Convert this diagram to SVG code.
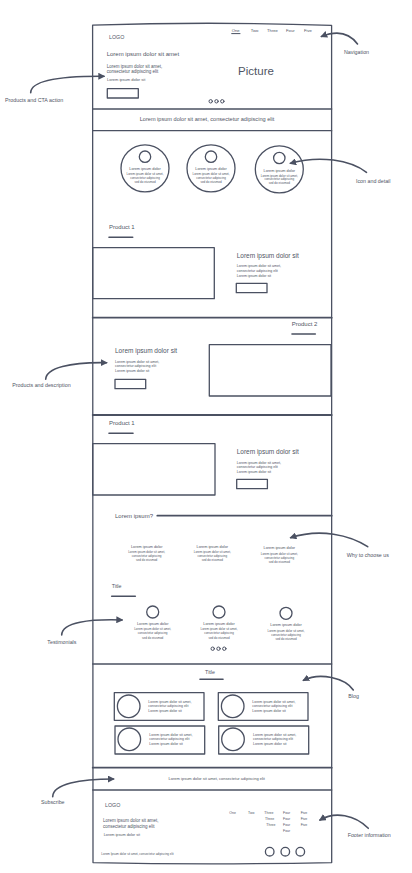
<svg xmlns="http://www.w3.org/2000/svg" width="412" height="873" viewBox="0 0 412 873">
<style>
.ln{fill:none;stroke:#4b5162;stroke-width:1.3;stroke-linecap:round;stroke-linejoin:round}
.th{fill:none;stroke:#4b5162;stroke-width:1.8;stroke-linecap:round}
.ul{fill:none;stroke:#4b5162;stroke-width:1.6;stroke-linecap:round}
.ar{fill:none;stroke:#4b5162;stroke-width:1.6;stroke-linecap:round}
text{font-family:"Liberation Sans",Arial,sans-serif;fill:#4f5565}
.lab{font-size:5.3px}
.h1{font-size:6px}
.h2{font-size:6.5px}
.s46{font-size:4.5px}
.s40{font-size:4px}
.s38{font-size:3.8px}
.s36{font-size:3.6px}
.s35{font-size:3.5px}
.s30{font-size:3px}
.nav{font-size:4.2px}
.mid{text-anchor:middle}
</style>
<defs>
<marker id="ah" viewBox="0 0 8 8" refX="6.5" refY="4" markerWidth="7" markerHeight="7" orient="auto" markerUnits="userSpaceOnUse">
<path d="M0,0 L8,4 L0,8 Z" fill="#4b5162"/>
</marker>
</defs>

<g id="frame">
<path class="ln" d="M92.6,25.2 Q210,21.2 331.6,25.4 L331.7,862.6 Q210,865 93,862.6 Z"/>
<line class="ln" x1="92.7" y1="109" x2="331.7" y2="109"/>
<line class="ln" x1="92.7" y1="130.7" x2="331.7" y2="130.7"/>
<line class="th" x1="92.7" y1="317.7" x2="331.7" y2="317.7"/>
<line class="th" x1="92.7" y1="415" x2="331.7" y2="415"/>
<line class="ln" x1="92.7" y1="664" x2="331.7" y2="664"/>
<line class="th" x1="92.7" y1="767.7" x2="331.7" y2="767.7"/>
<line class="ln" x1="92.7" y1="790" x2="331.7" y2="790"/>
</g>

<g id="header">
<text x="109" y="38.5" style="font-size:5.3px">LOGO</text>
<text class="nav" x="231.7" y="31.5">One</text>
<text class="nav" x="250.7" y="31.5">Two</text>
<text class="nav" x="267" y="31.5">Three</text>
<text class="nav" x="286" y="31.5">Four</text>
<text class="nav" x="304" y="31.5">Five</text>
<line class="ln" x1="231.7" y1="33.6" x2="240" y2="33.6" style="stroke-width:1"/>
<text class="h1" x="106.7" y="56.4">Lorem ipsum dolor sit amet</text>
<text class="s46" x="106.7" y="67.5">Lorem ipsum dolor sit amet,</text>
<text class="s46" x="106.7" y="73.2">consectetur adipiscing elit</text>
<text class="s40" x="107" y="81.4">Lorem ipsum dolor sit</text>
<rect class="ln" x="107.3" y="88.7" width="31" height="9.3"/>
<text class="mid" x="256" y="74.7" style="font-size:11.5px">Picture</text>
<circle class="ln" cx="210.7" cy="101.3" r="1.7" style="stroke-width:1"/>
<circle class="ln" cx="216.5" cy="101.3" r="1.7" style="stroke-width:1"/>
<circle class="ln" cx="222.3" cy="101.3" r="1.7" style="stroke-width:1"/>
</g>

<g id="banner">
<text class="mid" x="207" y="121" style="font-size:5.6px">Lorem ipsum dolor sit amet, consectetur adipiscing elit</text>
</g>

<g id="feature-1">
<ellipse class="ln" cx="145" cy="168.3" rx="24" ry="23.5"/>
<circle class="ln" cx="145" cy="156.7" r="5.7"/>
<text class="s38 mid" x="145" y="170.3">Lorem ipsum dolor</text>
<text class="s30 mid" x="145" y="175.3">Lorem ipsum dolor sit amet,</text>
<text class="s30 mid" x="145" y="179">consectetur adipiscing</text>
<text class="s30 mid" x="145" y="182.7">sed do eiusmod</text>
</g>
<g id="feature-2">
<ellipse class="ln" cx="211" cy="168.3" rx="24" ry="23.5"/>
<circle class="ln" cx="211" cy="156.7" r="5.7"/>
<text class="s38 mid" x="211" y="170.3">Lorem ipsum dolor</text>
<text class="s30 mid" x="211" y="175.3">Lorem ipsum dolor sit amet,</text>
<text class="s30 mid" x="211" y="179">consectetur adipiscing</text>
<text class="s30 mid" x="211" y="182.7">sed do eiusmod</text>
</g>
<g id="feature-3">
<ellipse class="ln" cx="279.3" cy="169.3" rx="24" ry="23.5"/>
<circle class="ln" cx="279.3" cy="158" r="5.7"/>
<text class="s38 mid" x="279.3" y="171.6">Lorem ipsum dolor</text>
<text class="s30 mid" x="279.3" y="176.6">Lorem ipsum dolor sit amet,</text>
<text class="s30 mid" x="279.3" y="180.3">consectetur adipiscing</text>
<text class="s30 mid" x="279.3" y="184">sed do eiusmod</text>
</g>

<g id="product-1">
<text class="h1" x="109" y="229.4">Product 1</text>
<line class="ul" x1="109" y1="237.3" x2="132.7" y2="237.3"/>
<rect class="ln" x="92.7" y="247.7" width="121.6" height="51"/>
<text class="h2" x="236.7" y="258">Lorem ipsum dolor sit</text>
<text class="s36" x="236.7" y="267.3">Lorem ipsum dolor sit amet,</text>
<text class="s36" x="236.7" y="272">consectetur adipiscing elit</text>
<text class="s36" x="236.7" y="277">Lorem ipsum dolor sit</text>
<rect class="ln" x="236.3" y="283.3" width="30.7" height="9.4"/>
</g>

<g id="product-2">
<text class="h1" x="291.7" y="326.4">Product 2</text>
<line class="ul" x1="292" y1="334" x2="315.3" y2="334"/>
<rect class="ln" x="209.3" y="344.7" width="121.7" height="51.3"/>
<text class="h2" x="115" y="353.3">Lorem ipsum dolor sit</text>
<text class="s36" x="115" y="362.9">Lorem ipsum dolor sit amet,</text>
<text class="s36" x="115" y="367.3">consectetur adipiscing elit</text>
<text class="s36" x="115" y="372.3">Lorem ipsum dolor sit</text>
<rect class="ln" x="115" y="379.3" width="30.7" height="9.4"/>
</g>

<g id="product-3">
<text class="h1" x="109" y="425.4">Product 1</text>
<line class="ul" x1="109" y1="433.3" x2="133" y2="433.3"/>
<rect class="ln" x="92.7" y="443.7" width="122.3" height="51.3"/>
<text class="h2" x="236.7" y="453.6">Lorem ipsum dolor sit</text>
<text class="s36" x="236.7" y="463.6">Lorem ipsum dolor sit amet,</text>
<text class="s36" x="236.7" y="467.8">consectetur adipiscing elit</text>
<text class="s36" x="236.7" y="473">Lorem ipsum dolor sit</text>
<rect class="ln" x="236.7" y="479.3" width="30.7" height="9.4"/>
</g>

<g id="why-choose">
<text class="h1" x="115" y="517.8">Lorem ipsum?</text>
<line class="th" x1="157.3" y1="515.7" x2="331.7" y2="515.7"/>
<text class="s38 mid" x="146.7" y="547.6">Lorem ipsum dolor</text>
<text class="s30 mid" x="146.7" y="553.3">Lorem ipsum dolor sit amet,</text>
<text class="s30 mid" x="146.7" y="557.3">consectetur adipiscing</text>
<text class="s30 mid" x="146.7" y="561.3">sed do eiusmod</text>
<text class="s38 mid" x="212.3" y="547.6">Lorem ipsum dolor</text>
<text class="s30 mid" x="212.3" y="553.3">Lorem ipsum dolor sit amet,</text>
<text class="s30 mid" x="212.3" y="557.3">consectetur adipiscing</text>
<text class="s30 mid" x="212.3" y="561.3">sed do eiusmod</text>
<text class="s38 mid" x="279.3" y="548.9">Lorem ipsum dolor</text>
<text class="s30 mid" x="279.3" y="554.6">Lorem ipsum dolor sit amet,</text>
<text class="s30 mid" x="279.3" y="558.6">consectetur adipiscing</text>
<text class="s30 mid" x="279.3" y="562.6">sed do eiusmod</text>
</g>

<g id="testimonials">
<text x="111.7" y="588.2" style="font-size:5.3px">Title</text>
<line class="ul" x1="111.7" y1="596.3" x2="135.3" y2="596.3"/>
<circle class="ln" cx="152.7" cy="612" r="6"/>
<text class="s38 mid" x="152.7" y="625">Lorem ipsum dolor</text>
<text class="s30 mid" x="152.7" y="630.4">Lorem ipsum dolor sit amet,</text>
<text class="s30 mid" x="152.7" y="634.4">consectetur adipiscing</text>
<text class="s30 mid" x="152.7" y="638.6">sed do eiusmod</text>
<circle class="ln" cx="219" cy="612" r="6"/>
<text class="s38 mid" x="219" y="625">Lorem ipsum dolor</text>
<text class="s30 mid" x="219" y="630.4">Lorem ipsum dolor sit amet,</text>
<text class="s30 mid" x="219" y="634.4">consectetur adipiscing</text>
<text class="s30 mid" x="219" y="638.6">sed do eiusmod</text>
<circle class="ln" cx="286" cy="613.3" r="6"/>
<text class="s38 mid" x="286" y="626.3">Lorem ipsum dolor</text>
<text class="s30 mid" x="286" y="631.7">Lorem ipsum dolor sit amet,</text>
<text class="s30 mid" x="286" y="635.7">consectetur adipiscing</text>
<text class="s30 mid" x="286" y="639.9">sed do eiusmod</text>
<circle class="ln" cx="212.7" cy="648.7" r="1.7" style="stroke-width:1"/>
<circle class="ln" cx="218.5" cy="648.7" r="1.7" style="stroke-width:1"/>
<circle class="ln" cx="224.3" cy="648.7" r="1.7" style="stroke-width:1"/>
</g>

<g id="blog">
<text class="mid" x="210" y="674.2" style="font-size:5.3px">Title</text>
<line class="ul" x1="200" y1="679.3" x2="223" y2="679.3"/>
<rect class="ln" x="114.3" y="692.7" width="89.7" height="27.6"/>
<circle class="ln" cx="128.7" cy="706.3" r="11.3"/>
<text class="s35" x="148.3" y="702.8">Lorem ipsum dolor sit amet,</text>
<text class="s35" x="148.3" y="706.8">consectetur adipiscing elit</text>
<text class="s35" x="148.3" y="712.2">Lorem ipsum dolor sit</text>
<rect class="ln" x="218.3" y="692.7" width="89.7" height="27.6"/>
<circle class="ln" cx="232.7" cy="706.3" r="11.3"/>
<text class="s35" x="252.3" y="702.8">Lorem ipsum dolor sit amet,</text>
<text class="s35" x="252.3" y="706.8">consectetur adipiscing elit</text>
<text class="s35" x="252.3" y="712.2">Lorem ipsum dolor sit</text>
<rect class="ln" x="115" y="726" width="89.7" height="28"/>
<circle class="ln" cx="129.3" cy="739.3" r="11.3"/>
<text class="s35" x="149.3" y="735.8">Lorem ipsum dolor sit amet,</text>
<text class="s35" x="149.3" y="739.8">consectetur adipiscing elit</text>
<text class="s35" x="149.3" y="745.1">Lorem ipsum dolor sit</text>
<rect class="ln" x="218.7" y="726" width="90" height="28"/>
<circle class="ln" cx="233" cy="739.3" r="11.3"/>
<text class="s35" x="253" y="735.8">Lorem ipsum dolor sit amet,</text>
<text class="s35" x="253" y="739.8">consectetur adipiscing elit</text>
<text class="s35" x="253" y="745.1">Lorem ipsum dolor sit</text>
</g>

<g id="subscribe">
<text class="s40 mid" x="216.7" y="780.4">Lorem ipsum dolor sit amet, consectetur adipiscing elit</text>
</g>

<g id="footer">
<text x="105" y="807.2" style="font-size:5.3px">LOGO</text>
<text class="s46" x="103" y="822.3">Lorem ipsum dolor sit amet,</text>
<text class="s46" x="103" y="827.9">consectetur adipiscing elit</text>
<text class="s38" x="103.7" y="836">Lorem ipsum dolor sit</text>
<text class="s30" x="101.3" y="854.7">Lorem Ipsum dolor sit amet, consectetur adipiscing elit</text>
<text class="s35" x="229.3" y="813.5">One</text>
<text class="s35" x="248" y="813.5">Two</text>
<text class="s35" x="264.3" y="813.5">Three</text>
<text class="s35" x="283" y="813.5">Four</text>
<text class="s35" x="300.7" y="813.5">Five</text>
<text class="s35" x="265" y="819.5">Three</text>
<text class="s35" x="283" y="819.5">Four</text>
<text class="s35" x="300.7" y="819.5">Five</text>
<text class="s35" x="266.3" y="825.5">Three</text>
<text class="s35" x="283" y="825.5">Four</text>
<text class="s35" x="300.7" y="825.5">Five</text>
<text class="s35" x="283" y="832">Four</text>
<circle class="ln" cx="269.7" cy="851.7" r="4.3"/>
<circle class="ln" cx="285.3" cy="851.7" r="4.3"/>
<circle class="ln" cx="300.3" cy="851.7" r="4.3"/>
</g>

<g id="labels">
<text class="lab" x="344" y="53.5">Navigation</text>
<text class="lab" x="5" y="101.8">Products and CTA action</text>
<text class="lab" x="356" y="182.5">Icon and detail</text>
<text class="lab" x="12.3" y="386.8">Products and description</text>
<text class="lab" x="346.7" y="556.8">Why to choose us</text>
<text class="lab" x="47.3" y="643.8">Testimonials</text>
<text class="lab" x="348.3" y="697.8">Blog</text>
<text class="lab" x="41" y="803.5">Subscribe</text>
<text class="lab" x="347.7" y="836.8">Footer information</text>
</g>

<g id="connectors">
<path class="ar" marker-end="url(#ah)" d="M357.5,44 Q345,27 321.5,36.5"/>
<path class="ar" marker-end="url(#ah)" d="M30.7,92.7 C31,80 60,76 104,76.3"/>
<path class="ar" marker-end="url(#ah)" d="M366.5,172.3 C350,160 320,155 290.5,163.3"/>
<path class="ar" marker-end="url(#ah)" d="M45.7,379.3 C46,368 70,362 106.5,362.7"/>
<path class="ar" marker-end="url(#ah)" d="M367.7,546.7 C350,535 320,528 290.7,537.7"/>
<path class="ar" marker-end="url(#ah)" d="M61.7,635 C62,622 90,619 122,620"/>
<path class="ar" marker-end="url(#ah)" d="M353.3,690 C345,678 320,672 303.5,680.3"/>
<path class="ar" marker-end="url(#ah)" d="M52.7,796.7 C53,784 80,779 113.5,779"/>
<path class="ar" marker-end="url(#ah)" d="M368.3,828.3 C355,815 335,811 320,820"/>
</g>
</svg>
